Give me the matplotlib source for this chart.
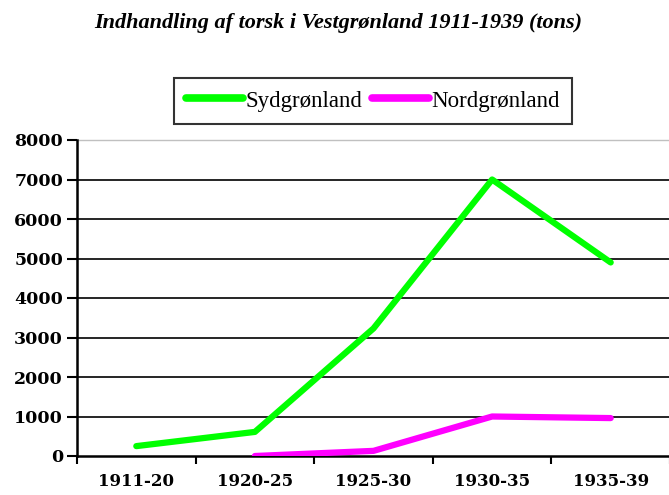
import matplotlib
matplotlib.use("Agg")
import matplotlib.pyplot as plt
import numpy as np

categories = ["1911-20", "1920-25", "1925-30", "1930-35", "1935-39"]
syd = [250, 610, 3230, 7000, 4900]
nord = [np.nan, 0, 130, 1000, 960]
yticks = [0, 1000, 2000, 3000, 4000, 5000, 6000, 7000, 8000]

fig = plt.figure(figsize=(6.69, 4.95), dpi=100)
ax = fig.add_axes([77/669, 1-456/495, 593/669, (456-140)/495])

x = np.arange(len(categories))
ax.plot(x, syd, color="#00FF00", lw=4.5, solid_capstyle="round", solid_joinstyle="round", label="Sydgrønland", zorder=3)
ax.plot(x, nord, color="#FF00FF", lw=4.5, solid_capstyle="round", solid_joinstyle="round", label="Nordgrønland", zorder=3)

ax.set_xlim(-0.5, 4.5)
ax.set_ylim(0, 8000)
ax.set_yticks(yticks)
ax.set_yticklabels([str(v) for v in yticks], fontfamily="DejaVu Serif", fontweight="bold", fontsize=12.5)
for v in yticks[1:-1]:
    ax.axhline(v, color="black", lw=1.2, zorder=1)
ax.axhline(8000, color="#c0c0c0", lw=1.0, zorder=1, clip_on=False)

ax.set_xticks(x)
ax.set_xticklabels(categories, fontfamily="DejaVu Serif", fontweight="bold", fontsize=12)
ax.tick_params(axis="x", which="major", length=0, pad=12)
ax.set_xticks(np.arange(-0.5, 5.0, 1.0), minor=True)
ax.tick_params(axis="x", which="minor", length=6, width=1.5, direction="out")
ax.tick_params(axis="y", length=7, width=1.5, direction="out", pad=3)

for s in ["top", "right"]:
    ax.spines[s].set_visible(False)
ax.spines["left"].set_linewidth(1.8)
ax.spines["bottom"].set_linewidth(1.8)

fig.text(0.505, 0.953, "Indhandling af torsk i Vestgrønland 1911-1939 (tons)",
         ha="center", va="center", fontfamily="Liberation Serif", fontstyle="italic",
         fontweight="bold", fontsize=16)

leg = fig.legend(loc="center", bbox_to_anchor=(373/669, 1-101/495), ncol=2,
                 prop={"family": "Liberation Serif", "size": 16.5}, frameon=True,
                 fancybox=False, edgecolor="black", handlelength=2.5, handletextpad=0.1,
                 columnspacing=0.4, borderpad=0.55, borderaxespad=0)
leg.get_frame().set_linewidth(1.5)
for h in leg.get_lines():
    h.set_linewidth(5.5)

fig.savefig("out.png", dpi=100)
